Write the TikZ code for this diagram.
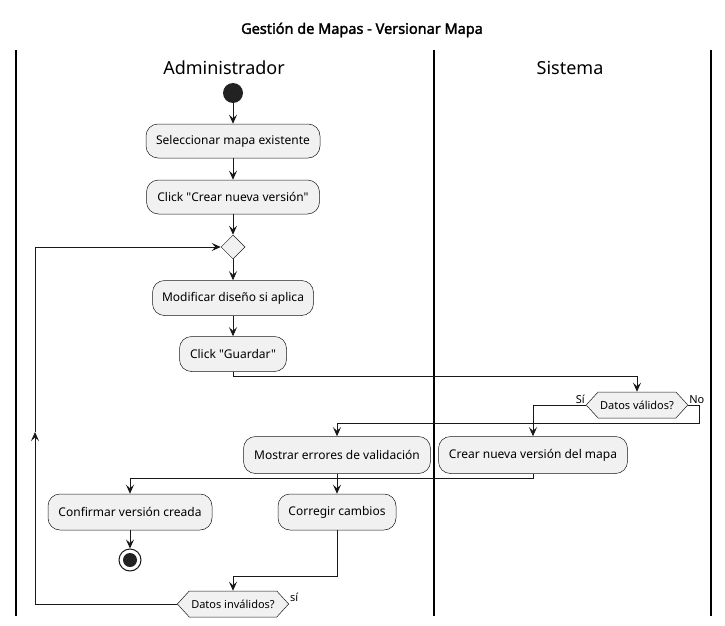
\documentclass[tikz,border=0pt]{standalone}
\usepackage{fontspec}
\setmainfont{Noto Sans}[Ligatures=TeXOff, AutoFakeBold=2]
\usetikzlibrary{arrows.meta,shapes.symbols,shapes.geometric,calc}
\definecolor{boxfill}{HTML}{F1F1F1}
\definecolor{ink}{HTML}{181818}
\definecolor{dot}{HTML}{222222}
\tikzset{
  act/.style={draw=ink, fill=boxfill, line width=0.5pt, rounded corners=12pt, inner sep=2pt, align=center, font=\fontsize{12}{14}\selectfont, text=black},
  hex/.style={signal, signal to=west and east, signal pointer angle=95, draw=ink, fill=boxfill, line width=0.5pt, inner sep=2pt, minimum height=26pt, font=\fontsize{11}{13}\selectfont, text=black},
  merge/.style={diamond, draw=ink, fill=boxfill, line width=0.5pt, minimum width=24pt, minimum height=24pt, inner sep=0pt},
  flow/.style={draw=ink, line width=1pt},
  arr/.style={flow, -{Stealth[length=9pt,width=8pt,inset=3.5pt]}},
  lane/.style={draw=black, line width=1.5pt},
  lbl/.style={font=\fontsize{11}{13}\selectfont, inner sep=1pt},
  lanetitle/.style={font=\fontsize{18}{22}\selectfont},
}
\begin{document}
\begin{tikzpicture}[x=1pt,y=-1pt]
\useasboundingbox (0,0) rectangle (725,626);
\node[font=\bfseries\fontsize{14.5}{17}\selectfont] (title) at (362,30) {Gestión de Mapas - Versionar Mapa};
\draw[lane] (16,50) -- (16,616);
\draw[lane] (434,50) -- (434,616);
\draw[lane] (711,50) -- (711,616);
\node[lanetitle] (l1) at (224,68) {Administrador};
\node[lanetitle] (l2) at (570,68) {Sistema};

\node[circle, fill=dot, minimum size=20pt, inner sep=0pt] (start) at (233,93) {};
\node[act, minimum width=174pt, minimum height=34pt] (a1) at (233,141) {Seleccionar mapa existente};
\node[act, minimum width=173pt, minimum height=34pt] (a2) at (233,197) {Click "Crear nueva versión"};
\node[merge] (m) at (233,247) {};
\node[act, minimum width=161pt, minimum height=35pt] (a3) at (233,298) {Modificar diseño si aplica};
\node[act, minimum width=107pt, minimum height=35pt] (a4) at (233,354) {Click "Guardar"};
\node[hex] (d1) at (637,405) {Datos válidos?};
\node[act, minimum width=187pt, minimum height=37pt] (a5) at (337,455) {Mostrar errores de validación};
\node[act, minimum width=189pt, minimum height=37pt] (a6) at (533,455) {Crear nueva versión del mapa};
\node[act, minimum width=164pt, minimum height=36pt] (a7) at (130,512) {Confirmar versión creada};
\node[act, minimum width=118pt, minimum height=36pt] (a8) at (337,512) {Corregir cambios};
\node[circle, draw=ink, fill=white, line width=1pt, minimum size=22pt, inner sep=0pt] (stop) at (130,560) {};
\node[circle, fill=dot, minimum size=14pt, inner sep=0pt] (stopin) at (stop) {};
\node[hex] (d2) at (233,604) {Datos inválidos?};

\draw[arr] (start) -- (a1);
\draw[arr] (a1) -- (a2);
\draw[arr] (a2) -- (m.north);
\draw[arr] (m.south) -- (a3);
\draw[arr] (a3) -- (a4);
\draw[arr] (a4.south) -- ++(0,5) -| (d1.north);
\draw[arr] (d1.west) -| (a6.north);
\node[lbl, anchor=south east] (lsi) at (d1.west) {Sí};
\draw[arr] (d1.east) -- ++(11,0) |- ($(a5.north)+(0,-13)$) -- (a5.north);
\node[lbl, anchor=south west] (lno) at (d1.east) {No};
\draw[arr] (a6.south) -- ++(0,5) -| (a7.north);
\draw[arr] (a5.south) -- (a8.north);
\draw[arr] (a7.south) -- (stop.north);
\draw[arr] (a8.south) -- ++(0,46) -| (d2.north);
\node[lbl, anchor=south west] (lsi2) at ($(d2.east)+(0,-1)$) {sí};
\coordinate (lp) at (35,432);
\draw[arr] (d2.west) -| (lp);
\draw[arr] (lp) |- (m.west);
\end{tikzpicture}
\end{document}
